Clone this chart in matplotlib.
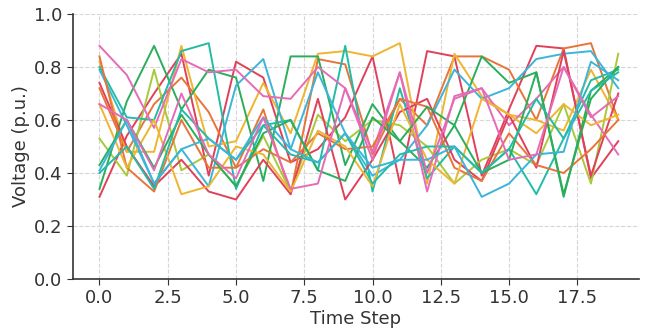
import matplotlib
matplotlib.use("Agg")
import matplotlib.pyplot as plt

# --------------------------
# Data
# --------------------------
time_steps = list(range(20))

v_red = [0.31, 0.54, 0.70, 0.85, 0.39, 0.82, 0.76, 0.44, 0.49, 0.61,
         0.84, 0.36, 0.86, 0.84, 0.39, 0.64, 0.88, 0.87, 0.38, 0.52]
v_orange = [0.72, 0.48, 0.66, 0.76, 0.63, 0.42, 0.64, 0.32, 0.83, 0.81,
            0.47, 0.68, 0.58, 0.84, 0.84, 0.79, 0.60, 0.87, 0.89, 0.60]
v_gold = [0.82, 0.48, 0.48, 0.88, 0.50, 0.52, 0.74, 0.55, 0.85, 0.86,
          0.84, 0.89, 0.36, 0.85, 0.69, 0.62, 0.60, 0.56, 0.79, 0.60]
v_lime = [0.53, 0.39, 0.79, 0.41, 0.47, 0.35, 0.54, 0.33, 0.62, 0.52,
          0.60, 0.58, 0.50, 0.36, 0.45, 0.49, 0.43, 0.66, 0.36, 0.85]
v_green = [0.34, 0.67, 0.88, 0.64, 0.79, 0.76, 0.37, 0.84, 0.84, 0.43,
           0.66, 0.52, 0.42, 0.58, 0.84, 0.74, 0.78, 0.31, 0.71, 0.80]
v_teal = [0.80, 0.61, 0.60, 0.86, 0.89, 0.34, 0.58, 0.60, 0.41, 0.88,
          0.33, 0.72, 0.38, 0.50, 0.40, 0.49, 0.32, 0.53, 0.75, 0.79]
v_cyan = [0.79, 0.58, 0.36, 0.49, 0.35, 0.73, 0.83, 0.49, 0.78, 0.55,
          0.39, 0.45, 0.58, 0.79, 0.68, 0.72, 0.83, 0.85, 0.86, 0.72]
v_pink = [0.88, 0.77, 0.57, 0.83, 0.78, 0.79, 0.69, 0.68, 0.80, 0.72,
          0.48, 0.78, 0.33, 0.69, 0.72, 0.58, 0.68, 0.80, 0.62, 0.47]
v_red2 = [0.74, 0.50, 0.35, 0.45, 0.33, 0.30, 0.45, 0.32, 0.68, 0.30,
          0.45, 0.63, 0.68, 0.45, 0.37, 0.62, 0.42, 0.86, 0.39, 0.70]
v_orange2 = [0.84, 0.42, 0.33, 0.60, 0.42, 0.42, 0.49, 0.44, 0.55, 0.49,
             0.50, 0.68, 0.65, 0.42, 0.37, 0.55, 0.43, 0.40, 0.49, 0.60]
v_gold2 = [0.66, 0.42, 0.60, 0.32, 0.35, 0.50, 0.47, 0.33, 0.56, 0.50,
           0.35, 0.66, 0.45, 0.36, 0.68, 0.62, 0.55, 0.66, 0.58, 0.62]
v_green2 = [0.43, 0.60, 0.42, 0.62, 0.47, 0.35, 0.55, 0.60, 0.41, 0.37,
            0.61, 0.52, 0.65, 0.58, 0.40, 0.45, 0.78, 0.32, 0.68, 0.80]
v_teal2 = [0.40, 0.50, 0.34, 0.64, 0.53, 0.45, 0.58, 0.47, 0.44, 0.55,
           0.36, 0.47, 0.50, 0.50, 0.40, 0.49, 0.68, 0.53, 0.71, 0.78]
v_cyan2 = [0.41, 0.60, 0.36, 0.49, 0.53, 0.45, 0.61, 0.49, 0.44, 0.55,
           0.42, 0.45, 0.45, 0.50, 0.31, 0.36, 0.47, 0.48, 0.82, 0.75]
v_pink2 = [0.66, 0.60, 0.41, 0.70, 0.47, 0.38, 0.61, 0.34, 0.36, 0.72,
           0.45, 0.78, 0.40, 0.68, 0.72, 0.45, 0.47, 0.80, 0.61, 0.69]

series = [v_red, v_orange, v_gold, v_lime, v_green, v_teal, v_cyan, v_pink,
          v_red2, v_orange2, v_gold2, v_green2, v_teal2, v_cyan2, v_pink2]
colors = ["#e0405a", "#e8743a", "#efb530", "#a8c93a", "#2aae5c", "#22bca6",
          "#3bb5d9", "#e66bb7", "#e0405a", "#e8743a", "#efb530", "#2aae5c",
          "#22bca6", "#3bb5d9", "#e66bb7"]

# --------------------------
# Plot
# --------------------------
fig = plt.figure(figsize=(6.46, 3.31), dpi=100)
ax = fig.add_axes([73 / 646, 1 - 279 / 331, 566 / 646, 265 / 331])

for vals, c in zip(series, colors):
    ax.plot(time_steps, vals, color=c, linewidth=1.4)

ax.set_xlim(-0.97, 19.76)
ax.set_ylim(0, 1.0)
ax.set_xticks([0, 2.5, 5, 7.5, 10, 12.5, 15, 17.5])
ax.set_yticks([0, 0.2, 0.4, 0.6, 0.8, 1.0])

ax.grid(True, linestyle="--", color="#d6d6d6", linewidth=0.8)
ax.set_axisbelow(True)
for side in ["top", "right"]:
    ax.spines[side].set_visible(False)
for side in ["left", "bottom"]:
    ax.spines[side].set_color("#333333")
    ax.spines[side].set_linewidth(1.2)

ax.tick_params(labelsize=13, colors="#333333", length=4)
ax.set_xlabel("Time Step", fontsize=13, color="#333333", labelpad=2)
ax.set_ylabel("Voltage (p.u.)", fontsize=13, color="#333333", labelpad=3)

fig.savefig("out.png", dpi=100)
